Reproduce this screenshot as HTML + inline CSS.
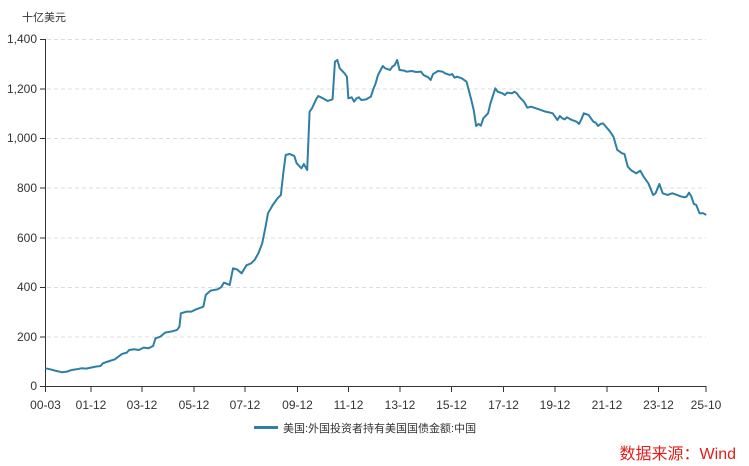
<!DOCTYPE html>
<html><head><meta charset="utf-8"><style>
body{margin:0;background:#fff;width:749px;height:466px;overflow:hidden;font-family:"Liberation Sans","Noto Sans CJK SC",sans-serif}
svg{position:absolute;left:0;top:0}
</style></head><body>
<svg width="749" height="466" viewBox="0 0 749 466">
<g font-family="Liberation Sans, Noto Sans CJK SC, sans-serif" font-size="12" fill="#333">
<text x="22" y="21" font-size="11">十亿美元</text>
<g stroke="#ddd" stroke-dasharray="4,3" stroke-width="1">
<line x1="47" x2="706" y1="39.5" y2="39.5"/><line x1="47" x2="706" y1="89" y2="89"/>
<line x1="47" x2="706" y1="138.5" y2="138.5"/><line x1="47" x2="706" y1="188" y2="188"/>
<line x1="47" x2="706" y1="238" y2="238"/><line x1="47" x2="706" y1="287.5" y2="287.5"/>
<line x1="47" x2="706" y1="337" y2="337"/>
</g>
<g stroke="#333" stroke-width="1">
<line x1="45.5" y1="39" x2="45.5" y2="387"/><line x1="45" y1="386.5" x2="706" y2="386.5"/>
<line x1="40" x2="45" y1="39.5" y2="39.5"/><line x1="40" x2="45" y1="89" y2="89"/><line x1="40" x2="45" y1="138.5" y2="138.5"/><line x1="40" x2="45" y1="188" y2="188"/><line x1="40" x2="45" y1="238" y2="238"/><line x1="40" x2="45" y1="287.5" y2="287.5"/><line x1="40" x2="45" y1="337" y2="337"/><line x1="40" x2="45" y1="386.5" y2="386.5"/>
<g transform="translate(0,386)">
<line x1="45.5" x2="45.5" y1="0" y2="6"/><line x1="91" x2="91" y1="0" y2="6"/><line x1="142" x2="142" y1="0" y2="6"/><line x1="194" x2="194" y1="0" y2="6"/><line x1="245" x2="245" y1="0" y2="6"/><line x1="297.5" x2="297.5" y1="0" y2="6"/><line x1="348.5" x2="348.5" y1="0" y2="6"/><line x1="400" x2="400" y1="0" y2="6"/><line x1="451.5" x2="451.5" y1="0" y2="6"/><line x1="503.5" x2="503.5" y1="0" y2="6"/><line x1="555" x2="555" y1="0" y2="6"/><line x1="607" x2="607" y1="0" y2="6"/><line x1="658.5" x2="658.5" y1="0" y2="6"/><line x1="706" x2="706" y1="0" y2="6"/>
</g></g>
<g text-anchor="end">
<text x="37" y="43">1,400</text><text x="37" y="93">1,200</text><text x="37" y="142">1,000</text><text x="37" y="192">800</text><text x="37" y="242">600</text><text x="37" y="291">400</text><text x="37" y="341">200</text><text x="37" y="390">0</text>
</g>
<g text-anchor="middle">
<text x="45.5" y="409">00-03</text><text x="91" y="409">01-12</text><text x="142" y="409">03-12</text><text x="194" y="409">05-12</text><text x="245" y="409">07-12</text><text x="297.5" y="409">09-12</text><text x="348.5" y="409">11-12</text><text x="400" y="409">13-12</text><text x="451.5" y="409">15-12</text><text x="503.5" y="409">17-12</text><text x="555" y="409">19-12</text><text x="607" y="409">21-12</text><text x="658.5" y="409">23-12</text><text x="706" y="409">25-10</text>
</g>
<line x1="254" x2="278" y1="427.5" y2="427.5" stroke="#2e7ea6" stroke-width="3"/>
<text x="283" y="432" font-size="11">美国:外国投资者持有美国国债金额:中国</text>
<text x="736" y="459" text-anchor="end" font-size="16" fill="#e0201c">数据来源：Wind</text>
</g>
<g transform="scale(0.4785,0.3333)">
<polyline fill="none" stroke="#2e7ea6" stroke-width="2" vector-effect="non-scaling-stroke" stroke-linejoin="round" points="95,1105 105,1108 115,1112 130,1117 140,1115 150,1110 160,1108 170,1105 180,1106 190,1103 200,1100 210,1098 215,1090 225,1085 240,1078 255,1062 265,1058 270,1050 280,1048 290,1050 300,1043 310,1045 320,1038 325,1015 335,1010 345,998 360,994 370,990 375,980 378,940 390,935 400,935 410,928 425,920 430,885 440,872 455,868 462,862 468,848 475,852 480,855 487,805 495,808 505,820 515,796 525,790 532,780 540,760 548,730 555,680 560,640 570,615 580,595 587,585 592,520 597,465 605,462 615,468 620,490 630,505 635,492 642,510 647,335 652,325 660,300 665,288 675,295 685,303 695,298 700,185 705,180 710,205 720,220 725,230 728,295 735,292 740,305 745,295 750,292 755,300 765,298 775,290 780,268 785,250 790,225 800,198 805,205 815,210 820,200 825,195 830,180 835,210 845,212 850,215 860,213 870,216 880,215 885,225 895,232 900,240 905,222 910,218 915,213 925,215 930,220 940,225 945,222 950,233 955,230 965,235 975,245 985,300 990,330 995,378 1000,372 1005,377 1010,355 1020,340 1025,310 1030,288 1035,265 1040,275 1050,280 1055,285 1060,278 1070,280 1075,275 1080,280 1085,290 1095,305 1102,323 1110,320 1120,325 1130,330 1140,335 1150,338 1155,340 1160,350 1165,360 1170,348 1175,355 1180,358 1185,352 1195,360 1205,365 1210,372 1215,358 1220,340 1230,345 1235,355 1240,365 1245,368 1250,378 1255,372 1260,370 1265,378 1275,395 1282,410 1290,450 1300,460 1305,462 1312,500 1320,512 1330,520 1338,512 1345,530 1355,550 1365,585 1370,580 1378,552 1385,580 1395,585 1405,580 1415,585 1420,588 1430,592 1435,590 1440,578 1445,590 1450,612 1455,615 1462,640 1470,640 1476,645"/>
</g>
</svg>
</body></html>
